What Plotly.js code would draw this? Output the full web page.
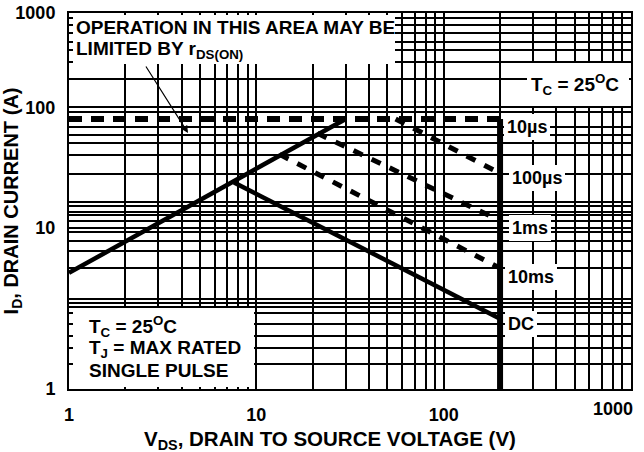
<!DOCTYPE html>
<html><head><meta charset="utf-8">
<script src="https://cdn.plot.ly/plotly-3.0.1.min.js"></script>
<style>html,body{margin:0;padding:0;background:#fff}</style>
</head><body><div id="chart" style="width:644px;height:452px"></div>
<script>
// ---- data (V in volts, I in amps) ----
const limitV = [1, 200];      const limitI = [80, 80];        // current limit (10us)
const rdsV = [1, 30];         const rdsI = [4.2, 80];         // rDS(ON) limit
const dcV = [7.6, 200];       const dcI = [23.7, 1.75];       // DC
const ms10V = [13.3, 200];    const ms10I = [40.6, 4.6];      // 10 ms
const ms1V = [21.2, 200];     const ms1I = [60.7, 11.4];      // 1 ms
const us100V = [55.4, 200];   const us100I = [80, 28.2];      // 100 us
const bvV = [200, 200];       const bvI = [80, 0.45];         // BVDSS limit

const xGrid = [2,3,4,5,6,7,8,9,20,30,40,50,60,70,80,90,200,300,400,500,600,700,800,900];
const xLabelVals = [1, 10, 100];
const xLabelText = ['1', '10', '100'];
const yGrid = [550,480,415,350,300,237,171,91,68,58.5,50,40,28,16.2,15,13.6,12.6,11.4,9.1,7.8,6.4,4.65,2.56,2.37,2.2,1.96,1.58,1.26,1,0.735];
const yLabelVals = [0.456, 10, 100, 606];
const yLabelText = ['1', '10', '100', '1000'];

// ---- layout helpers (pixel -> paper) ----
const L = 69, R = 13, T = 13, B = 63, W = 644, H = 452;
const PW = W - L - R, PH = H - T - B;
const px = x => (x - L) / PW;
const py = y => (H - B - y) / PH;

const FONT = 'Liberation Sans, Arial, sans-serif';
const f = (s) => ({family: FONT, size: s, color: '#000', weight: 'bold'});

const line = (x, y, w, dash) => ({x, y, type: 'scatter', mode: 'lines', hoverinfo: 'skip',
  line: {color: '#000', width: w, dash: dash || 'solid'}});

const traces = [
  line(limitV, limitI, 6, '13px,9px'),
  line(rdsV, rdsI, 4.5),
  line(dcV, dcI, 4.5),
  line(ms10V, ms10I, 5, '10px,10px'),
  line(ms1V, ms1I, 5, '10px,10px'),
  line(us100V, us100I, 5, '10px,10px'),
  line(bvV, bvI, 6),
];

const ann = (text, x, y, opt) => Object.assign({text, xref: 'paper', yref: 'paper', x: px(x), y: py(y),
  xanchor: 'left', yanchor: 'middle', showarrow: false, font: f(19), borderwidth: 0}, opt || {});
const labelBox = {bgcolor: '#fff', borderpad: 3, font: f(18)};

const annotations = [
  ann('OPERATION IN THIS AREA MAY BE', 75, 27),
  ann('LIMITED BY r<sub>DS(ON)</sub>', 75, 50),
  {text: '', xref: 'paper', yref: 'paper', x: px(188), y: py(133), ax: -43, ay: -68,
   showarrow: true, arrowhead: 2, arrowsize: 1.2, arrowwidth: 1.2, arrowcolor: '#000'},
  ann('T<sub>C</sub> = 25<sup>O</sup>C', 530, 84),
  ann('10\u00b5s', 504, 127, labelBox),
  ann('100\u00b5s', 509, 178, labelBox),
  ann('1ms', 509, 228, labelBox),
  ann('10ms', 505, 277, labelBox),
  ann('DC', 505, 324, labelBox),
  ann('T<sub>C</sub> = 25<sup>O</sup>C', 88, 326),
  ann('T<sub>J</sub> = MAX RATED', 88, 349),
  ann('SINGLE PULSE', 88, 370),
  ann('1000', 634, 409, {xanchor: 'right', font: f(18)}),
  ann('V<sub>DS</sub>, DRAIN TO SOURCE VOLTAGE (V)', 330, 440, {xanchor: 'center', font: f(20.5)}),
];

const box = (x0, y0, x1, y1) => ({type: 'rect', xref: 'paper', yref: 'paper', layer: 'above',
  x0: px(x0), x1: px(x1), y0: py(y1), y1: py(y0), fillcolor: '#fff', line: {width: 0}});
const shapes = [box(73, 15, 395, 64), box(527, 63, 629, 106), box(73, 308, 254, 387)];

const axisCommon = {type: 'log', showline: true, mirror: true, linecolor: '#000', linewidth: 2,
  showgrid: true, gridcolor: '#000', gridwidth: 2, zeroline: false, tickmode: 'array',
  ticks: '', tickfont: f(18), fixedrange: true, ticklabelstandoff: 8};

const layout = {
  width: W, height: H, margin: {l: L, r: R, t: T, b: B}, showlegend: false,
  paper_bgcolor: '#fff', plot_bgcolor: '#fff', font: f(18),
  xaxis: Object.assign({}, axisCommon, {range: [0, 3], tickvals: xLabelVals, ticktext: xLabelText,
    minor: {tickmode: 'array', tickvals: xGrid, showgrid: true, gridcolor: '#000', gridwidth: 2, ticks: ''}}),
  yaxis: Object.assign({}, axisCommon, {range: [-0.3417, 2.7833], tickvals: yLabelVals, ticktext: yLabelText,
    minor: {tickmode: 'array', tickvals: yGrid, showgrid: true, gridcolor: '#000', gridwidth: 2, ticks: ''},
    title: {text: 'I<sub>D</sub>, DRAIN CURRENT (A)', font: f(20), standoff: 2}}),
  annotations, shapes,
};

Plotly.newPlot('chart', traces, layout, {displayModeBar: false, staticPlot: true});
</script></body></html>
